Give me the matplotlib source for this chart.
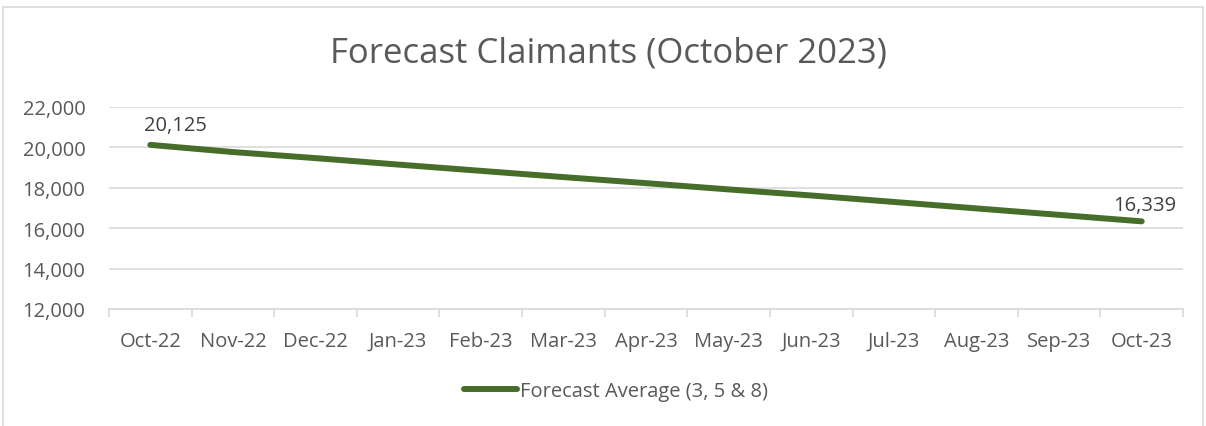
import matplotlib
matplotlib.use("Agg")
import matplotlib.pyplot as plt
from matplotlib.patches import Rectangle
from matplotlib.ticker import FuncFormatter, FixedLocator

months = ["Oct-22", "Nov-22", "Dec-22", "Jan-23", "Feb-23", "Mar-23", "Apr-23",
          "May-23", "Jun-23", "Jul-23", "Aug-23", "Sep-23", "Oct-23"]
forecast = [20125, 19770, 19470, 19150, 18840, 18530, 18230,
            17920, 17620, 17300, 16980, 16660, 16339]
series_name = "Forecast Average (3, 5 & 8)"
title = "Forecast Claimants (October 2023)"
yticks = [12000, 14000, 16000, 18000, 20000, 22000]

plt.rcParams['font.family'] = ['Open Sans', 'DejaVu Sans']
W, H = 1206, 427
fig = plt.figure(figsize=(W / 100, H / 100), dpi=100)
fig.patch.set_facecolor("white")

# chart frame
fig.patches.append(Rectangle((3 / W, -0.1), 1200 / W, 1.1 - 8 / H, transform=fig.transFigure,
                             fill=False, edgecolor="#D9D9D9", linewidth=1.2))

ax = fig.add_axes([109 / W, 1 - 310 / H, (1183 - 109) / W, (310 - 108) / H])
x = list(range(len(months)))
line_color = "#466D2A"
ax.plot(x, forecast, color=line_color, linewidth=4.3, solid_capstyle="round", label=series_name)
ax.set_xlim(-0.5, len(months) - 0.5)
ax.set_ylim(12000, 22000)
ax.set_yticks(yticks)
ax.yaxis.set_major_formatter(FuncFormatter(lambda v, p: f"{int(v):,}"))
ax.set_xticks(x)
ax.set_xticklabels(months)
ax.grid(axis="y", color="#D9D9D9", linewidth=1.2)
ax.set_axisbelow(True)
for s in ["top", "right", "left"]:
    ax.spines[s].set_visible(False)
ax.spines["bottom"].set_color("#D9D9D9")
ax.spines["bottom"].set_linewidth(1.2)
ax.xaxis.set_minor_locator(FixedLocator([i - 0.5 for i in range(len(months) + 1)]))
ax.tick_params(axis="x", which="major", length=0, pad=26.4, labelsize=14.5, labelcolor="#595959")
ax.tick_params(axis="x", which="minor", length=6, color="#D9D9D9", width=1.2)
ax.tick_params(axis="y", length=0, pad=17, labelsize=14.5, labelcolor="#595959")
for lbl in ax.get_xticklabels():
    lbl.set_verticalalignment("baseline")

ax.annotate(f"{forecast[0]:,}", (x[0], forecast[0]), xytext=(18, 14), textcoords="offset points",
            ha="center", va="center", fontsize=14.5, color="#404040")
ax.annotate(f"{forecast[-1]:,}", (x[-1], forecast[-1]), xytext=(2, 12), textcoords="offset points",
            ha="center", va="center", fontsize=14.5, color="#404040")

fig.text(608 / W, 1 - 54 / H, title, ha="center", va="center", fontsize=25, color="#595959")

leg = fig.legend(loc="center", bbox_to_anchor=(616 / W, 1 - 392 / H), frameon=False,
                 fontsize=14.5, handlelength=2.6, handletextpad=0.15, labelcolor="#595959")

fig.savefig("out.png", dpi=100, facecolor="white")
